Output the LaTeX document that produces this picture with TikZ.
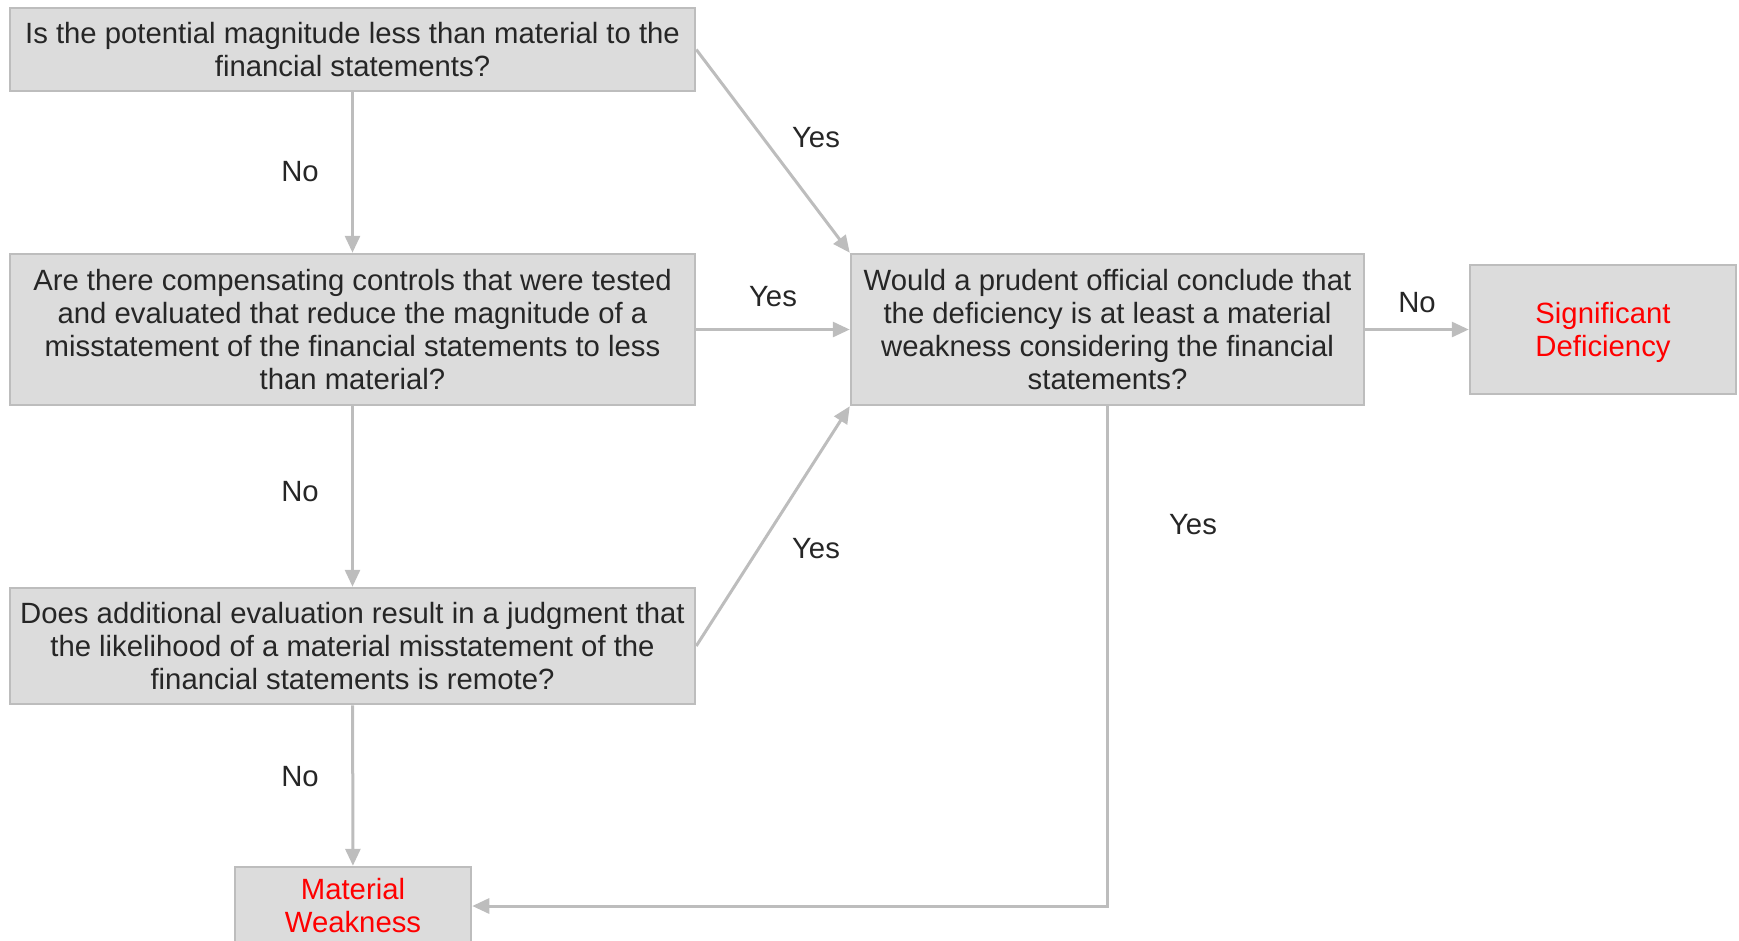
\documentclass[tikz,border=0pt]{standalone}
\usepackage{fontspec}
\setmainfont{Liberation Sans}
\usetikzlibrary{arrows.meta}
\definecolor{boxfill}{HTML}{DCDCDC}
\definecolor{boxline}{HTML}{BDBDBD}
\definecolor{ink}{HTML}{262626}
\definecolor{alert}{HTML}{FF0000}
\begin{document}
\begin{tikzpicture}[x=1pt,y=-1pt,
  box/.style={draw=boxline, fill=boxfill, line width=2.5pt, rectangle,
    align=center, text=ink, inner sep=0pt,
    font=\fontsize{29.3}{33}\selectfont},
  outcome/.style={box, text=alert},
  flow/.style={draw=boxline, line width=3pt,
    -{Triangle[length=17pt,width=15pt]}},
  lbl/.style={text=ink, font=\fontsize{29.3}{33}\selectfont, inner sep=0pt}]
\useasboundingbox (0,0) rectangle (1739,940);

% question boxes
\node[box, minimum width=685pt, minimum height=83pt] (q1) at (352.5,49.5)
  {Is the potential magnitude less than material to the\\financial statements?};
\node[box, minimum width=685pt, minimum height=151pt] (q2) at (352.5,329.5)
  {Are there compensating controls that were tested\\and evaluated that reduce the magnitude of a\\misstatement of the financial statements to less\\than material?};
\node[box, minimum width=685pt, minimum height=116pt] (q3) at (352.5,646)
  {Does additional evaluation result in a judgment that\\the likelihood of a material misstatement of the\\financial statements is remote?};
\node[box, minimum width=513pt, minimum height=151pt] (q4) at (1107.5,329.5)
  {Would a prudent official conclude that\\the deficiency is at least a material\\weakness considering the financial\\statements?};

% outcome boxes
\node[outcome, minimum width=266pt, minimum height=129pt, text depth=0pt] (sd) at (1603,329.5)
  {Significant\\Deficiency};
\node[outcome, minimum width=236pt, minimum height=78pt] (mw) at (353,906)
  {Material\\Weakness};

\coordinate (turn) at (q4.south |- mw.east);

% connectors
\draw[flow] (q1) -- (q2);
\draw[flow] (q2) -- (q3);
\draw[flow] (q3) -- (mw);
\draw[flow] (q1.east) -- (q4.north west);
\draw[flow] (q2.east) -- (q4.west);
\draw[flow] (q3.east) -- (q4.south west);
\draw[flow] (q4.east) -- (sd.west);
\draw[flow] (q4.south) -- (turn) -- (mw.east);

% branch labels
\node[lbl] (l1) at (300,172) {No};
\node[lbl] (l2) at (300,492) {No};
\node[lbl] (l3) at (300,777) {No};
\node[lbl] (l4) at (816,138) {Yes};
\node[lbl] (l5) at (773,297) {Yes};
\node[lbl] (l6) at (816,549) {Yes};
\node[lbl] (l7) at (1417,303) {No};
\node[lbl] (l8) at (1193,525) {Yes};
\end{tikzpicture}
\end{document}
